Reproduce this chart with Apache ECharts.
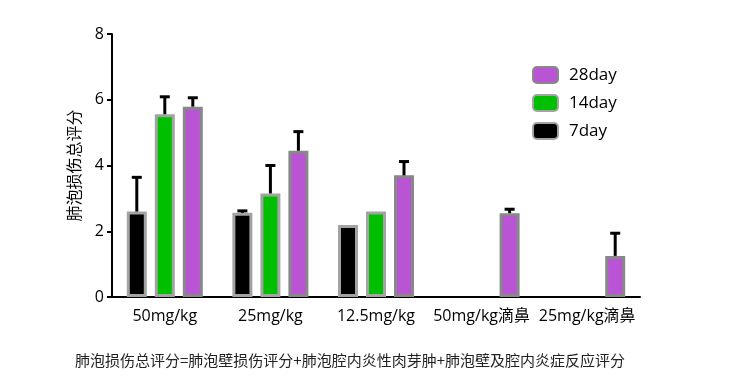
<!DOCTYPE html>
<html><head><meta charset="utf-8">
<script src="https://cdn.jsdelivr.net/npm/echarts@6/dist/echarts.min.js"></script>
<style>html,body{margin:0;padding:0;background:#fff}#c{width:730px;height:391px}</style>
</head><body><div id="c"></div>
<script>
const categories = ['50mg/kg', '25mg/kg', '12.5mg/kg', '50mg/kg滴鼻', '25mg/kg滴鼻'];
const day7 = [2.6, 2.56, 2.19, null, null];
const day7Err = [3.64, 2.62, null, null, null];
const day14 = [5.56, 3.15, 2.6, null, null];
const day14Err = [6.09, 4.0, null, null, null];
const day28 = [5.79, 4.45, 3.70, 2.55, 1.25];
const day28Err = [6.06, 5.03, 4.12, 2.67, 1.94];
const yTicks = [0, 2, 4, 6, 8];
const yTitle = '肺泡损伤总评分';
const footnote = '肺泡损伤总评分=肺泡壁损伤评分+肺泡腔内炎性肉芽肿+肺泡壁及腔内炎症反应评分';

const FONT = '"Open Sans","Noto Sans CJK SC",sans-serif';
const BW = 20, STEP = 28;

function errSeries(vals, errs, idx) {
  const data = [];
  vals.forEach((v, i) => { if (v != null && errs[i] != null) data.push([i, v, errs[i]]); });
  return {
    type: 'custom', z: 5, silent: true,
    data: data,
    renderItem: function (params, api) {
      const top = api.coord([api.value(0), api.value(2)]);
      const base = api.coord([api.value(0), api.value(1)]);
      const x = top[0] + (idx - 1) * STEP;
      return {
        type: 'group',
        children: [
          { type: 'line', shape: { x1: x, y1: base[1], x2: x, y2: top[1] }, style: { stroke: '#000', lineWidth: 3 } },
          { type: 'line', shape: { x1: x - 5, y1: top[1], x2: x + 5, y2: top[1] }, style: { stroke: '#000', lineWidth: 3 } }
        ]
      };
    }
  };
}

const chart = echarts.init(document.getElementById('c'));
chart.setOption({
  animation: false,
  textStyle: { fontFamily: FONT },
  grid: { left: 112, right: 90, top: 34, bottom: 94 },
  legend: {
    orient: 'vertical', left: 527, top: 61, itemWidth: 25, itemHeight: 16, itemGap: 10,
    data: ['28day', '14day', '7day'],
    textStyle: { fontSize: 17, color: '#000', fontFamily: FONT, padding: [0, 0, 0, 6] }
  },
  title: {
    text: footnote, left: 70, top: 348,
    textStyle: { fontSize: 15, fontWeight: 'normal', color: '#222', fontFamily: '"Noto Sans CJK SC",sans-serif' }
  },
  xAxis: {
    type: 'category', data: categories,
    axisLine: { lineStyle: { color: '#000', width: 2 } },
    axisTick: { alignWithLabel: true, interval: 0, length: 5, lineStyle: { color: '#000', width: 2 } },
    axisLabel: { interval: 0, fontSize: 16, color: '#000', margin: 11, fontFamily: FONT }
  },
  yAxis: {
    type: 'value', min: 0, max: 8, interval: 2,
    name: yTitle, nameLocation: 'middle', nameGap: 30, nameRotate: 90,
    nameTextStyle: { fontSize: 16, color: '#000', fontFamily: '"Noto Sans CJK SC",sans-serif' },
    axisLine: { show: true, lineStyle: { color: '#000', width: 2 } },
    axisTick: { show: true, length: 5, lineStyle: { color: '#000', width: 2 } },
    axisLabel: { fontSize: 16, color: '#000', margin: 8, fontFamily: FONT,
      formatter: v => yTicks.indexOf(v) >= 0 ? String(v) : '' },
    splitLine: { show: false }
  },
  series: [
    { name: '7day', type: 'bar', data: day7, barWidth: BW, barGap: '40%',
      itemStyle: { color: '#000', borderColor: '#a3a3a3', borderWidth: 3 } },
    { name: '14day', type: 'bar', data: day14, barWidth: BW, barGap: '40%',
      itemStyle: { color: '#00bf00', borderColor: '#a3a3a3', borderWidth: 3 } },
    { name: '28day', type: 'bar', data: day28, barWidth: BW, barGap: '40%',
      itemStyle: { color: '#b955d5', borderColor: '#888888', borderWidth: 3 } },
    errSeries(day7, day7Err, 0),
    errSeries(day14, day14Err, 1),
    errSeries(day28, day28Err, 2)
  ]
});
</script></body></html>
